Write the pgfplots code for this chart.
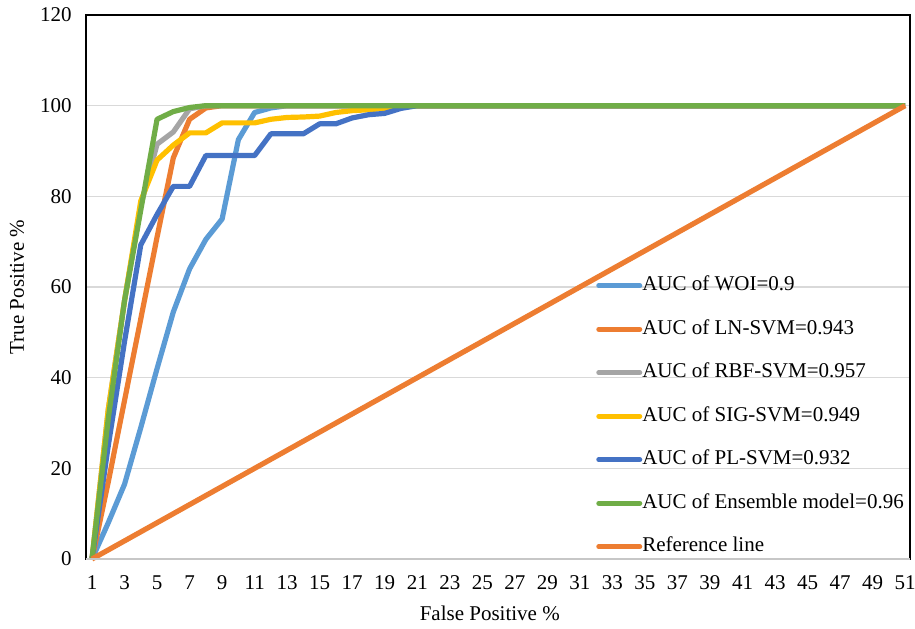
\documentclass[border=0pt]{standalone}
\usepackage{pgfplots}
\pgfplotsset{compat=1.18}
\usepackage{fontspec}
\setmainfont{Liberation Serif}
\definecolor{cWOI}{HTML}{5B9BD5}
\definecolor{cLN}{HTML}{ED7D31}
\definecolor{cRBF}{HTML}{A5A5A5}
\definecolor{cSIG}{HTML}{FFC000}
\definecolor{cPL}{HTML}{4472C4}
\definecolor{cENS}{HTML}{70AD47}
\definecolor{cGrid}{HTML}{D9D9D9}
\begin{document}
\fontsize{10.5}{12.6}\selectfont
\begin{tikzpicture}
\useasboundingbox (-43pt,-34.5pt) rectangle (414.5pt,279.5pt);
\begin{axis}[
  scale only axis,
  width=412pt, height=272pt,
  xmin=0.63, xmax=51.3,
  ymin=0, ymax=120,
  xtick={1,3,...,51},
  ytick={0,20,...,120},
  major tick length=0pt,
  ymajorgrids,
  grid style={color=cGrid, line width=0.75pt},
  axis line style={black, line width=0.8pt},
  /pgf/number format/assume math mode=true,
  tick label style={font=\fontsize{10.5}{12.6}\selectfont},
  label style={font=\fontsize{10.5}{12.6}\selectfont},
  xticklabel style={anchor=center, yshift=-12pt},
  yticklabel style={anchor=east, inner sep=0pt, xshift=-7pt},
  xlabel={False Positive \%},
  ylabel={True Positive \%},
  xlabel style={at={(axis description cs:0.49,-0.1)}, anchor=center},
  ylabel style={at={(axis description cs:-0.0837,0.5)}, anchor=center},
  legend cell align=left,
  legend style={at={(0.6115,0.527)}, anchor=north west, draw=none, fill=none,
    font=\fontsize{10.5}{12.6}\selectfont,
    nodes={inner sep=0pt, text height=7pt, text depth=2pt},
    row sep=12.75pt, column sep=0pt},
  legend image code/.code={\draw[#1, line width=2.5pt, line cap=round] (1.25pt,0pt) -- (21.75pt,0pt);},
  every axis plot/.append style={line width=2.6pt, line join=round, mark=none},
  clip=false,
]
\addplot[cWOI] coordinates {(1,0)(2,8)(3,16.5)(4,29)(5,42)(6,54.5)(7,64)(8,70.5)(9,75)(10,92.5)(11,98.5)(12,99.5)(13,100)(51,100)};
\addlegendentry{AUC of WOI=0.9}
\addplot[cLN] coordinates {(1,0)(2,17)(3,35)(4,53)(5,71)(6,88.5)(7,97)(8,99.5)(9,100)(51,100)};
\addlegendentry{AUC of LN-SVM=0.943}
\addplot[cRBF] coordinates {(1,0)(2,33)(3,57)(4,78)(5,91.5)(6,94.2)(7,99.3)(8,100)(51,100)};
\addlegendentry{AUC of RBF-SVM=0.957}
\addplot[cSIG] coordinates {(1,0)(2,33)(3,57)(4,79)(5,88)(6,91.3)(7,94)(8,94)(9,96.2)(10,96.2)(11,96.2)(12,97)(13,97.4)(14,97.5)(15,97.7)(16,98.5)(17,98.9)(18,99.1)(19,99.4)(20,100)(51,100)};
\addlegendentry{AUC of SIG-SVM=0.949}
\addplot[cPL] coordinates {(1,0)(2,25)(3,48)(4,69.3)(5,76)(6,82.2)(7,82.2)(8,89)(9,89)(10,89)(11,89)(12,93.8)(13,93.8)(14,93.8)(15,96)(16,96)(17,97.3)(18,98)(19,98.3)(20,99.4)(21,100)(51,100)};
\addlegendentry{AUC of PL-SVM=0.932}
\addplot[cENS] coordinates {(1,0)(2,31)(3,57)(4,77)(5,97)(6,98.7)(7,99.6)(8,100)(51,100)};
\addlegendentry{AUC of Ensemble model=0.96}
\addplot[cLN] coordinates {(1,0)(51,100)};
\addlegendentry{Reference line}
\end{axis}
\draw[cGrid!80!gray, line width=0.8pt] (0,0) -- (412pt,0);
\end{tikzpicture}
\end{document}
